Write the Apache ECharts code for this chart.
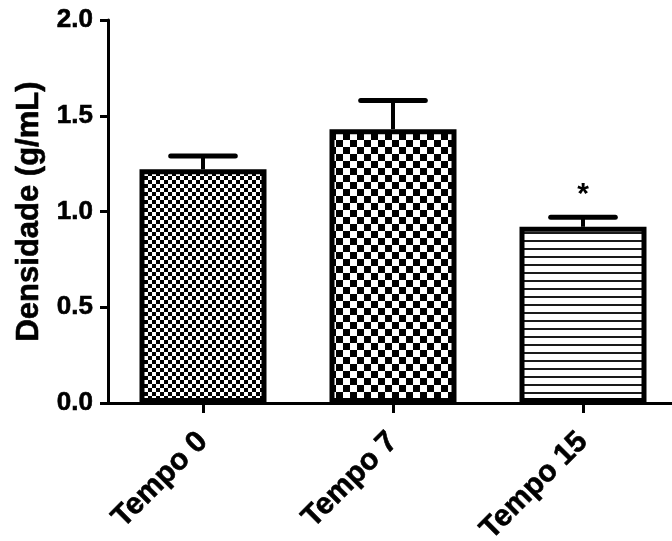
<!DOCTYPE html>
<html>
<head>
<meta charset="utf-8">
<script src="https://cdn.jsdelivr.net/npm/echarts@6/dist/echarts.min.js"></script>
<style>
html,body{margin:0;padding:0;background:#fff;}
#chart{width:672px;height:541px;}
</style>
</head>
<body>
<div id="chart"></div>
<script>
var categories = ['Tempo 0', 'Tempo 7', 'Tempo 15'];
var means = [1.22, 1.43, 0.92];
var upperErrors = [1.29, 1.58, 0.97];
var significance = ['', '', '*'];
var yTicks = [0, 0.5, 1.0, 1.5, 2.0];

var FONT = '"Liberation Sans", Arial, sans-serif';

function checker(size) {
  var c = document.createElement('canvas');
  c.width = size * 2; c.height = size * 2;
  var g = c.getContext('2d');
  g.fillStyle = '#fff'; g.fillRect(0, 0, size * 2, size * 2);
  g.fillStyle = '#000';
  g.fillRect(0, 0, size, size);
  g.fillRect(size, size, size, size);
  return c;
}
function hlines(step, thick) {
  var c = document.createElement('canvas');
  c.width = 8; c.height = step;
  var g = c.getContext('2d');
  g.fillStyle = '#fff'; g.fillRect(0, 0, 8, step);
  g.fillStyle = '#1a1a1a'; g.fillRect(0, 0, 8, thick);
  return c;
}
var patterns = [
  { image: checker(4), repeat: 'repeat' },
  { image: checker(7), repeat: 'repeat' },
  { image: hlines(8, 2), repeat: 'repeat' }
];

var chart = echarts.init(document.getElementById('chart'), null, { renderer: 'canvas' });

var barData = means.map(function (v, i) {
  return { value: v, itemStyle: { color: patterns[i], borderColor: '#000', borderWidth: 5 } };
});
var errData = means.map(function (v, i) { return [i, v, upperErrors[i]]; });

var heavy = { color: '#000', fontWeight: 'bold', fontFamily: FONT, textBorderColor: '#000', textBorderWidth: 0.6 };

chart.setOption({
  animation: false,
  backgroundColor: '#fff',
  grid: { left: 108, right: -6, top: 20, bottom: 138, containLabel: false, outerBoundsMode: 'none' },
  xAxis: {
    type: 'category',
    data: categories,
    axisLine: { lineStyle: { color: '#000', width: 3 } },
    axisTick: { show: true, alignWithLabel: true, length: 10, lineStyle: { color: '#000', width: 3 } },
    axisLabel: Object.assign({ rotate: 45, margin: 34, fontSize: 30 }, heavy),
    splitLine: { show: false }
  },
  yAxis: {
    type: 'value',
    min: 0, max: 2, interval: 0.5,
    name: 'Densidade (g/mL)',
    nameLocation: 'middle',
    nameGap: 58,
    nameTextStyle: Object.assign({ fontSize: 31 }, heavy),
    axisLine: { show: true, lineStyle: { color: '#000', width: 3 } },
    axisTick: { show: true, length: 8, lineStyle: { color: '#000', width: 3 } },
    axisLabel: Object.assign({ margin: 15, fontSize: 26,
      formatter: function (v) { return v.toFixed(1); } }, heavy),
    splitLine: { show: false }
  },
  series: [
    {
      type: 'bar',
      data: barData,
      barWidth: 127,
      z: 2
    },
    {
      type: 'custom',
      z: 3,
      data: errData,
      renderItem: function (params, api) {
        var i = api.value(0);
        var top = api.coord([i, api.value(2)]);
        var base = api.coord([i, api.value(1)]);
        var capHalf = api.size([1, 0])[0] * 0.17;
        var children = [
          { type: 'line', shape: { x1: top[0], y1: top[1], x2: base[0], y2: base[1] },
            style: { stroke: '#000', lineWidth: 4 } },
          { type: 'line', shape: { x1: top[0] - capHalf, y1: top[1], x2: top[0] + capHalf, y2: top[1] },
            style: { stroke: '#000', lineWidth: 5, lineCap: 'round' } }
        ];
        if (significance[i]) {
          children.push({ type: 'text', x: top[0], y: top[1] - 23,
            style: { text: significance[i], fill: '#000', font: 'bold 30px ' + FONT,
              align: 'center', verticalAlign: 'middle' } });
        }
        return { type: 'group', children: children };
      }
    }
  ]
});
</script>
</body>
</html>
